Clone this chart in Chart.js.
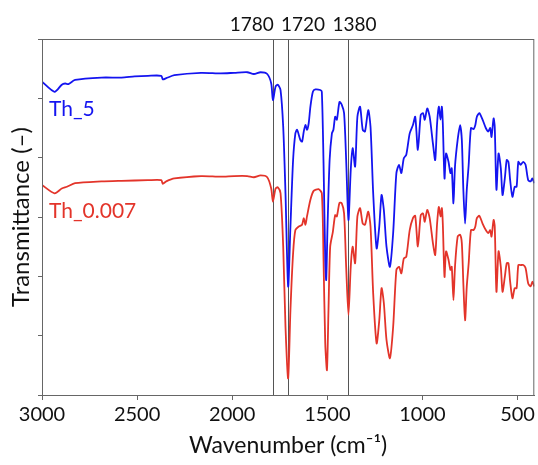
<!DOCTYPE html>
<html>
<head>
<meta charset="utf-8">
<script src="https://cdn.jsdelivr.net/npm/chart.js@4.4.1/dist/chart.umd.min.js"></script>
<style>
html,body{margin:0;padding:0;background:#fff;}
canvas{display:block;}
</style>
</head>
<body>
<canvas id="c" width="538" height="465"></canvas>
<script>
// ---- data ----
const wn5 = [3000,2934,2896,2878,2861,2826,2687,2582,2513,2443,2373,2365,2347,2304,2164,2060,1990,1921,1886,1851,1816,1795,1786,1772,1760,1746,1732,1720,1706,1694,1680,1668,1659,1642,1633,1624,1615,1607,1598,1589,1576,1563,1537,1529,1520,1511,1506,1499,1488,1476,1468,1459,1450,1436,1424,1412,1401,1389,1377,1367,1354,1342,1328,1314,1302,1285,1273,1259,1241,1227,1215,1203,1189,1171,1154,1137,1123,1111,1098,1085,1067,1050,1038,1024,1009,997,988,975,962,945,933,923,914,905,898,893,884,876,863,853,846,837,829,815,802,793,785,776,767,757,745,731,722,714,701,684,667,654,644,637,626,620,611,600,588,579,567,557,548,539,527,515,505,496,484,470,458,444,431,422,412];
const t5 = [5.28,5.11,5.23,5.25,5.24,5.31,5.35,5.35,5.37,5.38,5.38,5.32,5.34,5.39,5.43,5.42,5.43,5.44,5.41,5.44,5.41,5.25,4.97,5.20,5.23,5.14,4.52,3.40,1.83,2.84,3.96,4.41,4.47,4.30,4.27,4.44,4.55,4.47,4.58,4.86,5.11,5.15,5.14,5.11,3.91,2.28,1.94,2.84,3.96,4.41,4.47,4.69,4.64,4.94,4.89,4.75,3.96,2.95,3.79,4.16,3.85,4.69,4.86,4.47,4.44,4.80,4.52,3.40,2.47,2.84,3.37,3.12,2.50,2.16,2.73,3.74,3.88,3.74,3.99,4.05,4.41,4.55,4.69,4.13,4.72,4.75,4.64,4.83,4.69,4.24,3.96,4.58,4.86,4.64,4.86,4.58,3.65,4.07,3.93,3.74,3.82,3.23,3.85,4.30,4.55,4.30,3.46,2.89,3.46,3.88,4.50,4.48,4.55,4.69,4.75,4.64,4.50,4.44,4.50,4.35,4.66,4.52,3.46,4.07,3.82,3.37,3.65,3.96,3.93,3.62,3.34,3.51,3.51,3.93,3.88,3.93,3.88,3.62,3.60,3.65,3.57];

const wn007 = [3000,2934,2896,2869,2826,2687,2582,2443,2373,2365,2347,2304,2164,2060,1990,1921,1886,1851,1816,1795,1786,1772,1760,1746,1732,1720,1706,1694,1680,1668,1650,1633,1624,1615,1607,1589,1572,1546,1529,1520,1511,1502,1494,1485,1471,1459,1450,1436,1424,1412,1401,1389,1377,1367,1354,1342,1328,1314,1302,1285,1273,1259,1241,1227,1215,1203,1189,1171,1154,1137,1123,1111,1098,1085,1067,1050,1038,1024,1009,997,988,975,962,945,933,923,914,905,898,893,884,876,863,853,846,837,829,815,802,793,785,776,767,757,745,731,722,714,701,684,667,654,644,637,626,620,611,600,588,579,567,557,548,539,527,515,505,496,484,470,458,444,431,422,412];
const t007 = [3.54,3.40,3.48,3.51,3.57,3.60,3.61,3.62,3.62,3.56,3.60,3.65,3.69,3.68,3.69,3.69,3.67,3.70,3.67,3.48,3.26,3.48,3.50,3.40,2.50,1.15,0.28,1.43,2.39,2.78,2.84,2.87,2.98,2.87,3.01,3.29,3.44,3.47,3.40,2.28,0.87,0.42,1.43,2.50,2.75,3.03,3.01,3.24,3.23,3.06,2.16,1.35,2.16,2.50,2.22,3.01,3.15,2.89,2.87,3.09,2.84,1.71,0.87,1.26,1.80,1.55,0.93,0.62,1.15,2.11,2.16,2.05,2.30,2.33,2.78,2.98,3.02,2.50,3.03,3.06,2.92,3.12,2.98,2.56,2.36,2.89,3.17,3.01,3.15,2.89,1.99,2.42,2.28,2.11,2.16,1.60,2.16,2.67,2.70,2.56,1.88,1.26,1.83,2.22,2.78,2.78,2.84,2.98,3.02,2.89,2.78,2.73,2.78,2.67,2.95,2.84,1.74,2.42,2.16,1.74,1.99,2.22,2.22,1.91,1.63,1.80,1.80,2.19,2.19,2.19,2.14,1.88,1.83,1.91,1.83];

const seriesNames = ['Th_5','Th_0.007'];
const xTicks = [3000,2500,2000,1500,1000,500];
const markerPos = [1787,1707,1389];
const markerLabels = ['1780','1720','1380'];
const xTitle = 'Wavenumber (cm\u207B\u00B9)';
const yTitle = 'Transmittance (\u2013)';

const FONT = 'Lato, "Open Sans", sans-serif';
const BLUE = '#1414f0';
const RED = '#e3342a';
const AXIS = '#666666';

function pts(xs, ys){ return xs.map((x,i)=>({x:x, y:ys[i]})); }

const decor = {
  id:'decor',
  beforeDatasetsDraw(chart){
    const {ctx, chartArea:a, scales:{x}} = chart;
    ctx.save();
    ctx.strokeStyle = '#555';
    ctx.lineWidth = 1;
    markerPos.forEach(v=>{
      const px = Math.round(x.getPixelForValue(v))+0.5;
      ctx.beginPath(); ctx.moveTo(px,a.top); ctx.lineTo(px,a.bottom); ctx.stroke();
    });
    ctx.restore();
  },
  afterDatasetsDraw(chart){
    const {ctx, chartArea:a, scales:{x}} = chart;
    ctx.save();
    ctx.strokeStyle = AXIS;
    ctx.lineWidth = 1;
    ctx.strokeRect(a.left+0.5, a.top+0.5, a.right-a.left-1, a.bottom-a.top);
    ctx.font = '19px ' + FONT;
    ctx.fillStyle = '#111';
    ctx.textAlign = 'center';
    ctx.textBaseline = 'alphabetic';
    const off = [-21, 15, 6];
    markerPos.forEach((v,i)=>{
      ctx.fillText(markerLabels[i], x.getPixelForValue(v)+off[i], 31);
    });
    ctx.textAlign = 'left';
    ctx.font = '21px ' + FONT;
    ctx.fillStyle = BLUE;
    ctx.fillText(seriesNames[0], a.left+7, 116);
    ctx.fillStyle = RED;
    ctx.fillText(seriesNames[1], a.left+7, 218);
    ctx.restore();
  }
};

new Chart(document.getElementById('c'), {
  type:'line',
  data:{
    datasets:[
      {label:seriesNames[0], data:pts(wn5,t5), borderColor:BLUE, borderWidth:1.8, pointRadius:0, tension:0.25, fill:false},
      {label:seriesNames[1], data:pts(wn007,t007), borderColor:RED, borderWidth:1.8, pointRadius:0, tension:0.25, fill:false}
    ]
  },
  options:{
    responsive:false,
    animation:false,
    layout:{padding:{top:39,right:1,left:0,bottom:0}},
    plugins:{legend:{display:false}, tooltip:{enabled:false}},
    scales:{
      x:{
        type:'linear', reverse:true, min:412, max:3000,
        afterBuildTicks(s){ s.ticks = xTicks.map(v=>({value:v})); },
        afterFit(s){ s.height = 70; },
        ticks:{font:{family:FONT,size:20}, color:'#111', padding:3, maxRotation:0, autoSkip:false,
               callback:(v)=>String(v)},
        grid:{drawOnChartArea:false, drawTicks:true, tickLength:5, color:AXIS},
        border:{display:true, color:AXIS},
        title:{display:true, text:xTitle, font:{family:FONT,size:23}, color:'#111', padding:{top:0,bottom:6}}
      },
      y:{
        min:0, max:6,
        ticks:{display:false, stepSize:1},
        afterFit(s){ s.width = 42; },
        grid:{drawOnChartArea:false, drawTicks:true, tickLength:4, color:AXIS},
        border:{display:true, color:AXIS},
        title:{display:true, text:yTitle, font:{family:FONT,size:24}, color:'#111', padding:{top:7,bottom:0}}
      }
    }
  },
  plugins:[decor]
});
</script>
</body>
</html>
